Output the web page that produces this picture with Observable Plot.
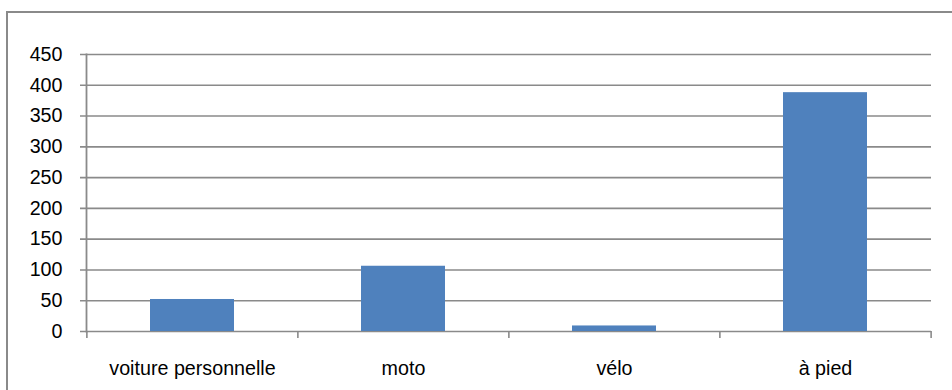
<!DOCTYPE html>
<html>
<head>
<meta charset="utf-8">
<script src="https://cdn.jsdelivr.net/npm/d3@7"></script>
<script src="https://cdn.jsdelivr.net/npm/@observablehq/plot@0.6"></script>
<style>
  html, body { margin: 0; padding: 0; background: #fff; }
  #chart { position: relative; width: 952px; height: 390px; overflow: hidden; }
  #chart svg { position: absolute; left: 0; top: 0; }
  /* chart-area outline (left and top edges inside the window) */
  #outline {
    position: absolute; left: 6px; top: 11px; width: 2000px; height: 2000px;
    border-left: 2px solid #8a8a8a; border-top: 2px solid #8a8a8a;
    pointer-events: none;
  }
</style>
</head>
<body>
<div id="chart"><div id="outline"></div></div>
<script>
// Mode de déplacement
const categories = ["voiture personnelle", "moto", "vélo", "à pied"];
const values = [52, 106, 9, 388];
const yTicks = [0, 50, 100, 150, 200, 250, 300, 350, 400, 450];

const data = categories.map((c, i) => ({mode: c, n: values[i]}));

const W = 952, H = 390;
const mL = 86, mR = 21, mT = 54, mB = 59;
// half of a category band, used to place the separators between categories
const halfStep = (W - mL - mR) / categories.length / 2;
const grey = "#8a8a8a";

const chart = Plot.plot({
  width: W,
  height: H,
  marginLeft: mL,
  marginRight: mR,
  marginTop: mT,
  marginBottom: mB,
  style: {fontFamily: "'Liberation Sans', Arial, sans-serif", fontSize: "19.7px", color: "#000", background: "transparent"},
  x: {domain: categories, paddingInner: 0.6, paddingOuter: 0.3, label: null},
  y: {domain: [0, 450], label: null},
  marks: [
    // horizontal gridlines, extended left as tick marks
    Plot.ruleY(yTicks, {stroke: grey, strokeWidth: 1.6, insetLeft: -6}),
    // vertical value axis line
    Plot.frame({anchor: "left", stroke: grey, strokeWidth: 1.8}),
    // separators between categories below the baseline
    Plot.ruleX(categories, {x: d => d, y1: 0, y2: 0, dx: -halfStep, insetBottom: -7, stroke: grey, strokeWidth: 1.6}),
    Plot.ruleX(categories.slice(-1), {x: d => d, y1: 0, y2: 0, dx: halfStep, insetBottom: -7, stroke: grey, strokeWidth: 1.6}),
    Plot.barY(data, {x: "mode", y: "n", fill: "#4f81bd"}),
    Plot.axisY({ticks: yTicks, tickSize: 0, tickPadding: 24, tickFormat: d => String(d), fill: "#000"}),
    Plot.axisX({tickSize: 0, tickPadding: 29, fill: "#000"})
  ]
});

document.getElementById("chart").prepend(chart);
</script>
</body>
</html>
